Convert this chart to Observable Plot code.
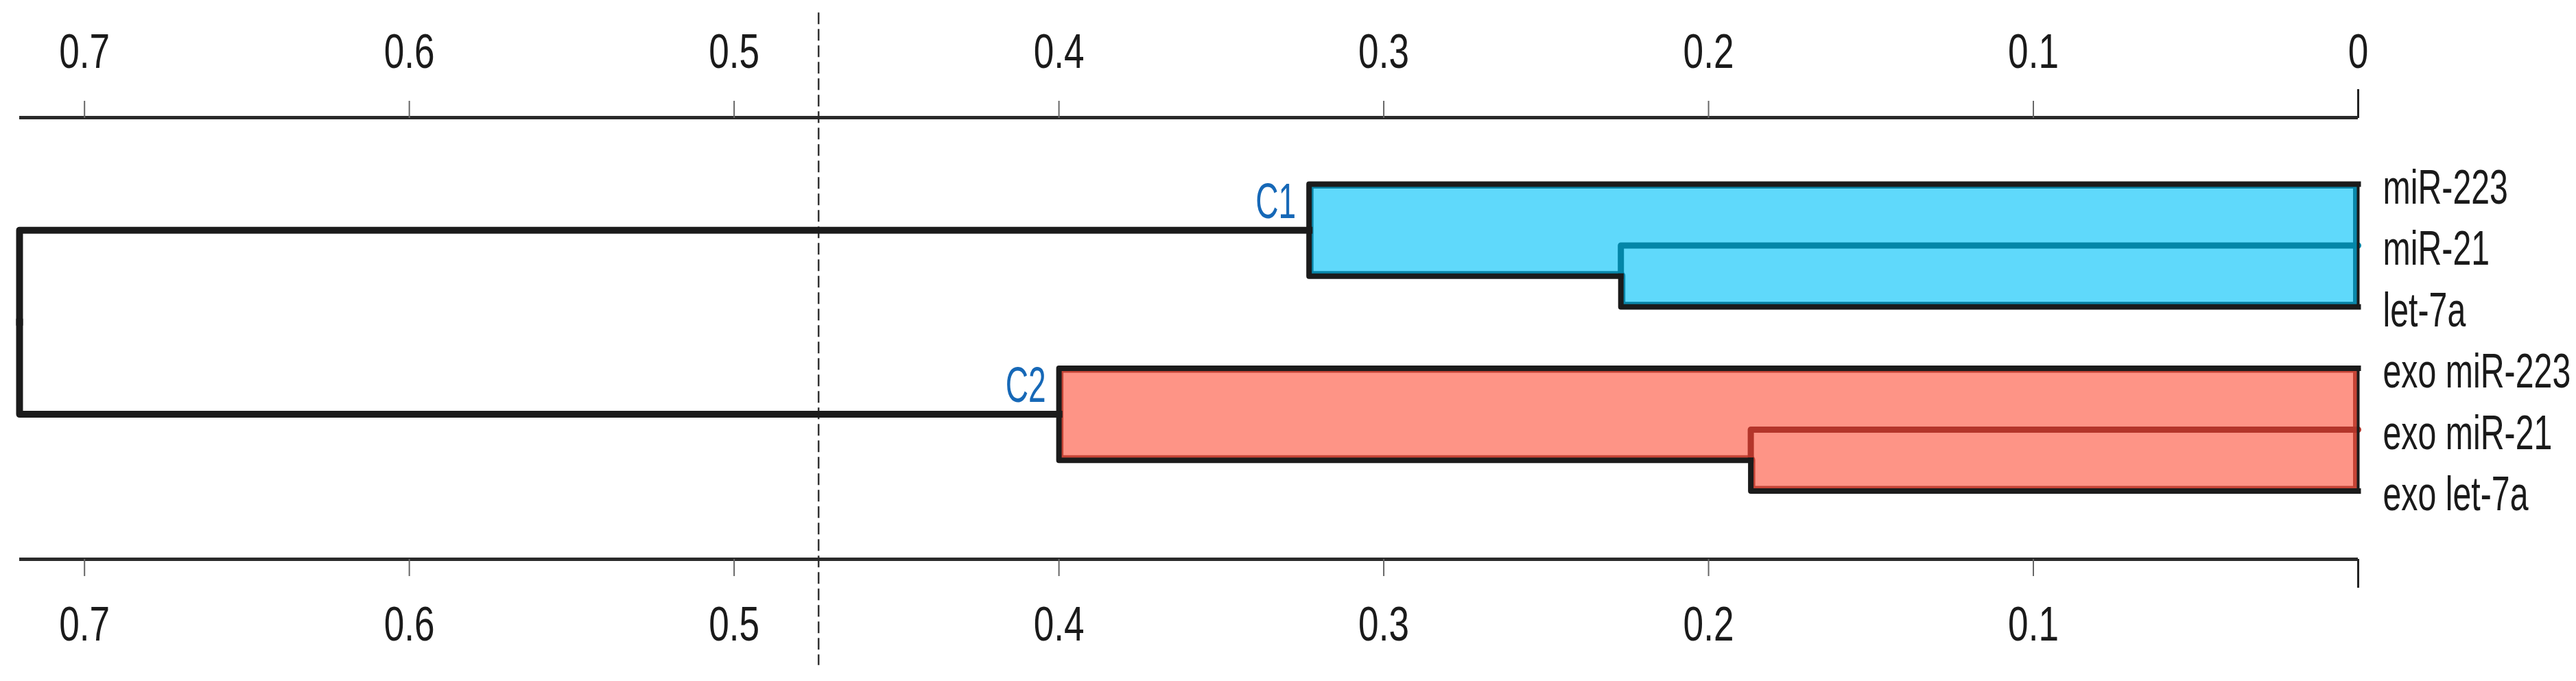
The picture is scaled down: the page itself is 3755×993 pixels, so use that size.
<!DOCTYPE html>
<html><head><meta charset="utf-8">
<script src="https://cdn.jsdelivr.net/npm/d3@7"></script>
<script src="https://cdn.jsdelivr.net/npm/@observablehq/plot@0.6"></script>
<style>html,body{margin:0;padding:0;background:#fff}</style>
</head><body><div id="chart"></div>
<script>
// ---- data ----
const leaves = ["miR-223", "miR-21", "let-7a", "exo miR-223", "exo miR-21", "exo let-7a"];
const nodeNames = ["n1", "C1", "n2", "C2", "root"];
const nodeUpper = ["miR-21", "miR-223", "exo miR-21", "exo miR-223", "C1"];
const nodeLower = ["let-7a", "n1", "exo let-7a", "n2", "C2"];
const nodeHeight = [0.227, 0.323, 0.187, 0.400, 0.720];
const clusters = ["C1", "C2"];
const cutHeight = 0.474;
const xTicks = [0.7, 0.6, 0.5, 0.4, 0.3, 0.2, 0.1];
const zeroTick = [0];
const innerLeaves = ["miR-21", "exo miR-21"];

// ---- styles ----
const clusterFill = ["#5fd9fb", "#fe9486"];
const clusterEdge = ["#0a87aa", "#c54436"];
const clusterInner = ["#0386a8", "#b3352a"];
const labelBlue = "#1668b7";

// ---- tree geometry (from data) ----
const H = new Map(), Y = new Map(), kids = new Map();
leaves.forEach((l, i) => { H.set(l, 0); Y.set(l, i); });
nodeNames.forEach((n, i) => {
  H.set(n, nodeHeight[i]);
  kids.set(n, [nodeUpper[i], nodeLower[i]]);
  Y.set(n, (Y.get(nodeUpper[i]) + Y.get(nodeLower[i])) / 2);
});
function clusterOf(name) {
  for (const c of clusters) {
    const stack = [c];
    while (stack.length) { const s = stack.pop(); if (s === name) return c; if (kids.has(s)) stack.push(...kids.get(s)); }
  }
  return null;
}
function leafRange(n) { if (!kids.has(n)) return [Y.get(n), Y.get(n)]; const [a, b] = kids.get(n); return [leafRange(a)[0], leafRange(b)[1]]; }

const segs = [];
nodeNames.forEach((n) => {
  for (const c of kids.get(n)) {
    const id = c + ">" + n;
    const kind = innerLeaves.includes(c) ? "inner-" + clusterOf(c) : (n === "root" ? "root" : "outer");
    segs.push({id, kind, x: H.get(c), y: Y.get(c)}, {id, kind, x: H.get(n), y: Y.get(c)}, {id, kind, x: H.get(n), y: Y.get(n)});
  }
});

// cluster shaded area: step outline under the cluster node
const areas = clusters.map((c) => {
  const [u, l] = kids.get(c);
  const [lu, ll] = kids.get(l);
  return [
    {y: Y.get(u), x1: H.get(c), x2: 0},
    {y: Y.get(l), x1: H.get(c), x2: 0},
    {y: Y.get(l), x1: H.get(l), x2: 0},
    {y: Y.get(ll), x1: H.get(l), x2: 0}
  ];
});

// ---- layout ----
const yTopAxis = -1.084, yBottomAxis = 6.112;
const rootH = d3.max(nodeHeight);
const lineBlack = "#1b1b1b";

const marks = [];
clusters.forEach((c, i) => {
  marks.push(Plot.areaX(areas[i], {y: "y", x1: "x1", x2: "x2", fill: clusterFill[i], stroke: clusterEdge[i], strokeWidth: 14}));
});
marks.push(Plot.ruleX([cutHeight], {y1: -2.79, y2: 7.84, stroke: "#333", strokeWidth: 2.5, strokeDasharray: "17,7"}));
clusters.forEach((c, i) => {
  marks.push(Plot.line(segs.filter(d => d.kind === "inner-" + c), {x: "x", y: "y", z: "id", stroke: clusterInner[i], strokeWidth: 9, strokeLinejoin: "round"}));
});
marks.push(Plot.line(segs.filter(d => d.kind === "outer"), {x: "x", y: "y", z: "id", stroke: lineBlack, strokeWidth: 8, strokeLinejoin: "round", strokeLinecap: "square"}));
marks.push(Plot.line(segs.filter(d => d.kind === "root"), {x: "x", y: "y", z: "id", stroke: lineBlack, strokeWidth: 10, strokeLinejoin: "round", strokeLinecap: "square"}));
marks.push(Plot.ruleX(clusters, {x: 0, y1: c => leafRange(c)[0], y2: c => leafRange(c)[1], stroke: lineBlack, strokeWidth: 4}));
marks.push(Plot.ruleY([yTopAxis, yBottomAxis], {x1: rootH, x2: 0, stroke: "#2a2a2a", strokeWidth: 5}));
marks.push(Plot.axisX({anchor: "top", ticks: xTicks, tickSize: 25, tickPadding: 48, stroke: "#666", strokeWidth: 2, fontSize: 70, label: null}));
marks.push(Plot.axisX({anchor: "top", ticks: zeroTick, tickSize: 42, tickPadding: 31, tickFormat: () => "0", stroke: "#222", strokeWidth: 3, fontSize: 70, label: null}));
marks.push(Plot.axisX({anchor: "bottom", ticks: xTicks, tickSize: 25, tickPadding: 44, stroke: "#666", strokeWidth: 2, fontSize: 70, label: null}));
marks.push(Plot.axisX({anchor: "bottom", ticks: zeroTick, tickSize: 42, tickFormat: () => "", stroke: "#222", strokeWidth: 3, label: null}));
marks.push(Plot.text(leaves, {x: 0, y: (d, i) => i, text: d => d, textAnchor: "start", dx: 36, dy: 6, fontSize: 70, fill: "#1a1a1a"}));
marks.push(Plot.text(clusters, {x: d => H.get(d), y: d => Y.get(d), text: d => d, textAnchor: "end", lineAnchor: "bottom", dx: -19, dy: -18, fontSize: 72, fill: labelBlue}));

const plot = Plot.plot({
  width: 3755, height: 993,
  marginLeft: 28, marginRight: 318, marginTop: 171, marginBottom: 178,
  x: {domain: [rootH, 0]},
  y: {domain: [yTopAxis, yBottomAxis], reverse: true, axis: null},
  style: {fontFamily: "'Liberation Sans', Arial, sans-serif", fontSize: "70px", color: "#1a1a1a", background: "#fff"},
  marks
});
document.getElementById("chart").append(plot);

// clip the cluster edge strokes to the inside of each shaded area
const ns = "http://www.w3.org/2000/svg";
const defs = document.createElementNS(ns, "defs");
plot.prepend(defs);
plot.querySelectorAll('g[aria-label="area"] path').forEach((p, i) => {
  const cp = document.createElementNS(ns, "clipPath");
  cp.setAttribute("id", "areaclip" + i);
  const q = document.createElementNS(ns, "path");
  q.setAttribute("d", p.getAttribute("d"));
  cp.appendChild(q); defs.appendChild(cp);
  p.setAttribute("clip-path", `url(#areaclip${i})`);
});

// condensed lettering as in the original figure: horizontal scale about each text's anchor
function squeeze(sel, k) {
  plot.querySelectorAll(sel).forEach(t => {
    const x = parseFloat(t.getAttribute("x") || 0) + parseFloat(t.getAttribute("dx") || 0);
    const tr = t.getAttribute("transform") || "";
    t.setAttribute("transform", `${tr} translate(${x},0) scale(${k},1) translate(${-x},0)`);
  });
}
squeeze('g[aria-label="x-axis tick label"] text', 0.76);
squeeze(`g[aria-label="text"]:not([fill="${labelBlue}"]) text`, 0.69);
squeeze(`g[aria-label="text"][fill="${labelBlue}"] text`, 0.64);
</script>
</body></html>
